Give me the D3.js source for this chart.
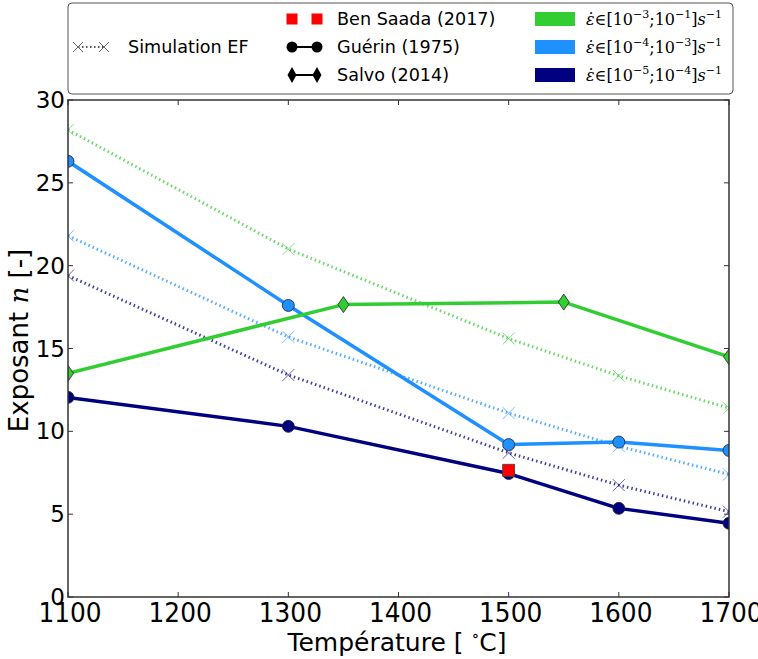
<!DOCTYPE html>
<html><head><meta charset="utf-8">
<script src="https://cdn.jsdelivr.net/npm/d3@7"></script>
<style>body{margin:0;background:#fff}svg{display:block}</style>
</head><body>
<svg id="c" width="758" height="659"></svg>
<script>
const temps = [1100, 1300, 1500, 1600, 1700];
const simGreen = [28.2, 21.0, 15.6, 13.35, 11.4];
const simBlue = [21.8, 15.7, 11.1, 9.1, 7.4];
const simNavy = [19.4, 13.4, 8.7, 6.75, 5.15];
const guerinBlue = [26.3, 17.6, 9.2, 9.35, 8.85];
const guerinNavy = [12.05, 10.3, 7.45, 5.35, 4.45];
const salvoTemps = [1100, 1350, 1550, 1700];
const salvoGreen = [13.5, 17.65, 17.8, 14.5];
const benSaadaTemps = [1500];
const benSaada = [7.65];
const xTicks = [1100, 1200, 1300, 1400, 1500, 1600, 1700];
const yTicks = [0, 5, 10, 15, 20, 25, 30];
const colors = {green: "#32cd32", blue: "#1e90ff", navy: "#000080"};

const svg = d3.select("#c");
const L = 68, R = 729, T = 100, B = 597;
const x = d3.scaleLinear().domain([1100, 1700]).range([L, R]);
const y = d3.scaleLinear().domain([0, 30]).range([B, T]);

svg.append("defs").append("clipPath").attr("id", "clip")
  .append("rect").attr("x", L).attr("y", T).attr("width", R - L).attr("height", B - T);
const plot = svg.append("g").attr("clip-path", "url(#clip)");

const line = d3.line().x(d => x(d[0])).y(d => y(d[1]));

function sim(vals, col) {
  const pts = temps.map((t, i) => [t, vals[i]]);
  plot.append("path").attr("d", line(pts)).attr("fill", "none")
    .attr("stroke", col).attr("stroke-width", 3).attr("stroke-dasharray", "1.5,3")
    .attr("opacity", 0.75);
  const s = 6;
  pts.forEach(p => {
    plot.append("path")
      .attr("d", `M${x(p[0]) - s},${y(p[1]) - s}L${x(p[0]) + s},${y(p[1]) + s}M${x(p[0]) - s},${y(p[1]) + s}L${x(p[0]) + s},${y(p[1]) - s}`)
      .attr("stroke", col).attr("stroke-width", 1).attr("opacity", 0.6).attr("fill", "none");
  });
}
sim(simGreen, colors.green);
sim(simBlue, colors.blue);
sim(simNavy, colors.navy);

function solid(ts, vals, col, marker) {
  const pts = ts.map((t, i) => [t, vals[i]]);
  plot.append("path").attr("d", line(pts)).attr("fill", "none")
    .attr("stroke", col).attr("stroke-width", 3.5).attr("stroke-linejoin", "round");
  pts.forEach(p => {
    const cx = x(p[0]), cy = y(p[1]);
    if (marker === "circle") {
      plot.append("circle").attr("cx", cx).attr("cy", cy).attr("r", 6)
        .attr("fill", col).attr("stroke", "#222").attr("stroke-width", 0.8);
    } else if (marker === "diamond") {
      plot.append("path").attr("d", `M${cx},${cy - 8}L${cx + 5.5},${cy}L${cx},${cy + 8}L${cx - 5.5},${cy}Z`)
        .attr("fill", col).attr("stroke", "#222").attr("stroke-width", 0.8);
    }
  });
}
solid(temps, guerinBlue, colors.blue, "circle");
solid(temps, guerinNavy, colors.navy, "circle");
solid(salvoTemps, salvoGreen, colors.green, "diamond");

benSaadaTemps.forEach((t, i) => {
  plot.append("rect").attr("x", x(t) - 6).attr("y", y(benSaada[i]) - 6)
    .attr("width", 12).attr("height", 12).attr("fill", "#ff0000")
    .attr("stroke", "#444").attr("stroke-width", 0.8);
});

// axes frame and ticks
const frame = svg.append("g");
const tl = 5;
xTicks.forEach(t => {
  frame.append("line").attr("x1", x(t)).attr("x2", x(t)).attr("y1", B).attr("y2", B - tl).attr("stroke", "#333");
  frame.append("line").attr("x1", x(t)).attr("x2", x(t)).attr("y1", T).attr("y2", T + tl).attr("stroke", "#333");
  frame.append("text").attr("transform", `translate(${x(t) + 2},${B + 25}) scale(0.92,1)`).attr("text-anchor", "middle")
    .attr("font-family", "DejaVu Sans").attr("font-size", 27).text(t);
});
yTicks.forEach(t => {
  frame.append("line").attr("x1", L).attr("x2", L + tl).attr("y1", y(t)).attr("y2", y(t)).attr("stroke", "#333");
  frame.append("line").attr("x1", R).attr("x2", R - tl).attr("y1", y(t)).attr("y2", y(t)).attr("stroke", "#333");
  frame.append("text").attr("x", L - 3).attr("y", y(t) + 8).attr("text-anchor", "end")
    .attr("font-family", "DejaVu Sans").attr("font-size", 23).text(t);
});
frame.append("rect").attr("x", L).attr("y", T).attr("width", R - L).attr("height", B - T)
  .attr("fill", "none").attr("stroke", "#333").attr("stroke-width", 1.5);

// axis labels
const xl = svg.append("text").attr("x", 397).attr("y", 651).attr("text-anchor", "middle")
  .attr("font-family", "DejaVu Sans").attr("font-size", 25);
xl.append("tspan").text("Température [ ");
xl.append("tspan").attr("font-family", "DejaVu Serif").attr("font-size", 16).attr("dy", -10).text("∘");
xl.append("tspan").attr("dy", 10).text("C]");

const yl = svg.append("text").attr("transform", `translate(28,${(T + B) / 2 - 8}) rotate(-90)`)
  .attr("text-anchor", "middle").attr("font-family", "DejaVu Sans").attr("font-size", 26);
yl.append("tspan").text("Exposant ");
yl.append("tspan").attr("font-family", "DejaVu Serif").attr("font-style", "italic").text("n");
yl.append("tspan").text(" [-]");

// legend
const lg = svg.append("g");
lg.append("rect").attr("x", 68).attr("y", 3).attr("width", 665).attr("height", 91).attr("rx", 4)
  .attr("fill", "#fff").attr("stroke", "#555").attr("stroke-width", 1);
const rows = [19, 47, 75];
function ltext(xp, yp, s) {
  lg.append("text").attr("x", xp).attr("y", yp + 6).attr("font-family", "DejaVu Sans").attr("font-size", 17.6).text(s);
}
// Simulation EF
lg.append("line").attr("x1", 78).attr("x2", 104).attr("y1", rows[1]).attr("y2", rows[1])
  .attr("stroke", "#555").attr("stroke-width", 2).attr("stroke-dasharray", "1.5,2.5");
[78, 104].forEach(px => {
  lg.append("path").attr("d", `M${px - 5},${rows[1] - 5}L${px + 5},${rows[1] + 5}M${px - 5},${rows[1] + 5}L${px + 5},${rows[1] - 5}`)
    .attr("stroke", "#666").attr("stroke-width", 1);
});
ltext(128, rows[1], "Simulation EF");
// Ben Saada
[292, 317].forEach(px => lg.append("rect").attr("x", px - 5.5).attr("y", rows[0] - 5.5).attr("width", 11).attr("height", 11).attr("fill", "#ff0000"));
ltext(337, rows[0], "Ben Saada (2017)");
// Guérin
lg.append("line").attr("x1", 292).attr("x2", 317).attr("y1", rows[1]).attr("y2", rows[1]).attr("stroke", "#000").attr("stroke-width", 2);
[292, 317].forEach(px => lg.append("circle").attr("cx", px).attr("cy", rows[1]).attr("r", 5.5).attr("fill", "#000"));
ltext(337, rows[1], "Guérin (1975)");
// Salvo
lg.append("line").attr("x1", 292).attr("x2", 317).attr("y1", rows[2]).attr("y2", rows[2]).attr("stroke", "#000").attr("stroke-width", 2);
[292, 317].forEach(px => lg.append("path").attr("d", `M${px},${rows[2] - 8}L${px + 4.5},${rows[2]}L${px},${rows[2] + 8}L${px - 4.5},${rows[2]}Z`).attr("fill", "#000"));
ltext(337, rows[2], "Salvo (2014)");
// strain rate ranges
const ranges = [["−3", "−1", colors.green], ["−4", "−3", colors.blue], ["−5", "−4", colors.navy]];
ranges.forEach((r, i) => {
  const yp = rows[i];
  lg.append("rect").attr("x", 535).attr("y", yp - 7).attr("width", 40).attr("height", 14).attr("fill", r[2]);
  const t = lg.append("text").attr("x", 586).attr("y", yp + 6).attr("font-family", "DejaVu Serif").attr("font-size", 16);
  t.append("tspan").attr("font-style", "italic").text("ε̇");
  t.append("tspan").text("∈[10");
  t.append("tspan").attr("font-size", 11).attr("dy", -7).text(r[0]);
  t.append("tspan").attr("dy", 7).text(";10");
  t.append("tspan").attr("font-size", 11).attr("dy", -7).text(r[1]);
  t.append("tspan").attr("dy", 7).text("]");
  t.append("tspan").attr("font-style", "italic").text("s");
  t.append("tspan").attr("font-size", 11).attr("dy", -7).text("−1");
});
</script>
</body></html>
